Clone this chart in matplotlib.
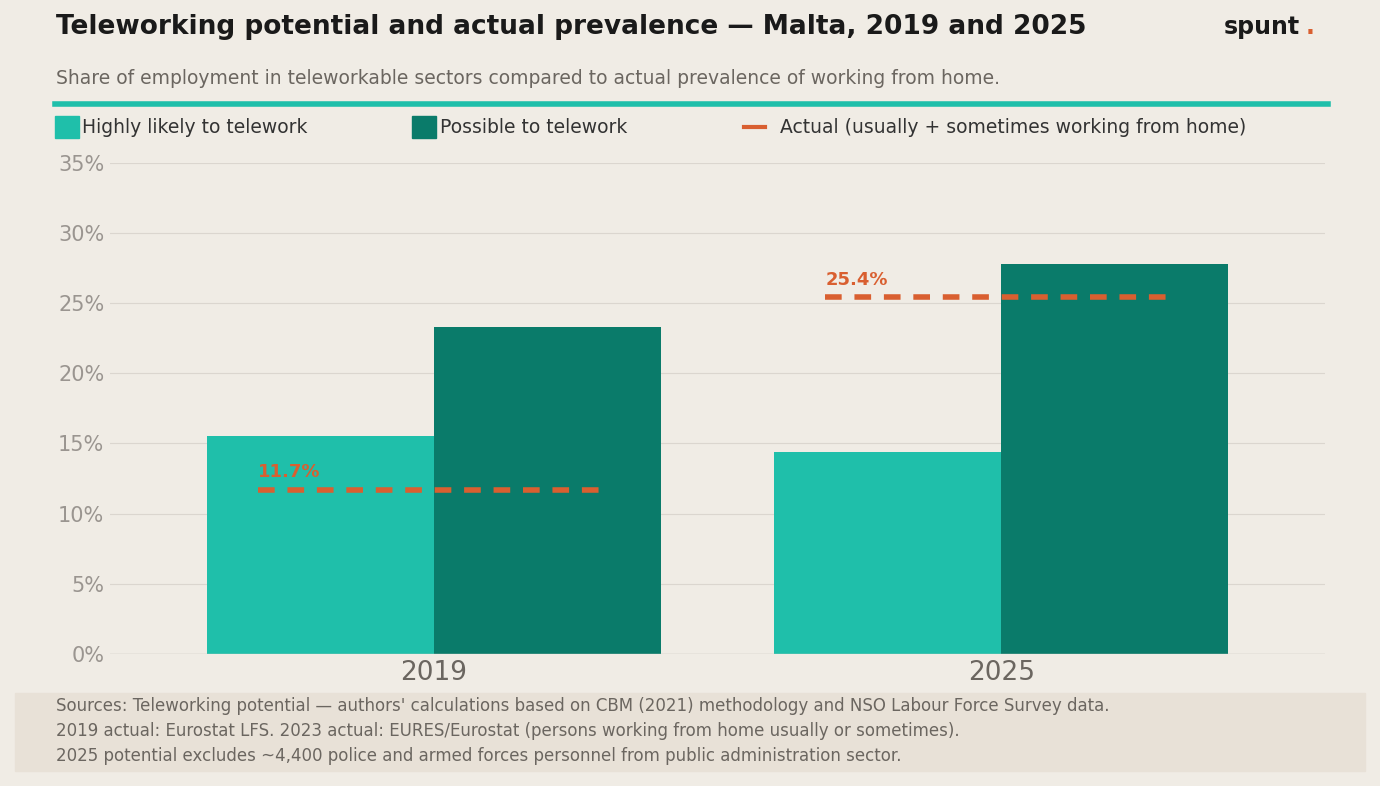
import matplotlib.pyplot as plt
from matplotlib.patches import Rectangle

years = ['2019', '2025']
highly_likely = [15.5, 14.4]
possible = [23.3, 27.8]
actual = [11.7, 25.4]
yticks = [0, 5, 10, 15, 20, 25, 30, 35]

bg = '#f0ece5'
light = '#1fbfaa'
dark = '#0a7b6a'
orange = '#d95f30'

fig = plt.figure(figsize=(13.8, 7.86), dpi=100, facecolor=bg)
ax = fig.add_axes([0.0797, 0.168, 0.8806, 0.625])
ax.set_facecolor(bg)

w = 0.4
x = range(len(years))
ax.bar([i - w / 2 for i in x], highly_likely, width=w, color=light, zorder=2)
ax.bar([i + w / 2 for i in x], possible, width=w, color=dark, zorder=2)
for i, v in zip(x, actual):
    ax.plot([i - 0.31, i + 0.31], [v, v], color=orange, lw=4, ls=(0, (3, 2.3)), zorder=3)
    ax.text(i - 0.31, v + 0.6, f'{v}%', color=orange, fontsize=13, fontweight='bold', va='bottom')

ax.set_xlim(-0.571, 1.571)
ax.set_ylim(0, 35)
ax.set_yticks(yticks)
ax.set_yticklabels([f'{t}%' for t in yticks], color='#9a9590', fontsize=15)
ax.set_xticks(list(x))
ax.set_xticklabels(years, fontsize=19, color='#6b6660')
ax.tick_params(length=0, pad=4)
ax.grid(axis='y', color='#dbd6cf', lw=0.8, zorder=0)
for s in ax.spines.values():
    s.set_visible(False)
ax.axhline(0, color='#cfcac3', lw=1)

fig.text(0.0406, 0.966, 'Teleworking potential and actual prevalence — Malta, 2019 and 2025',
         fontsize=19, fontweight='bold', color='#1a1a1a', va='center')
fig.text(0.887, 0.966, 'spunt', fontsize=17, fontweight='bold', color='#1a1a1a', va='center')
fig.text(0.946, 0.966, '.', fontsize=17, fontweight='bold', color=orange, va='center')
fig.text(0.0406, 0.9, 'Share of employment in teleworkable sectors compared to actual prevalence of working from home.',
         fontsize=13.5, color='#6b6660', va='center')
fig.add_artist(plt.Line2D([0.0395, 0.962], [0.868, 0.868], color=light, lw=4))

# legend
ly = 0.838
fig.add_artist(Rectangle((0.0399, ly - 0.014), 0.0174, 0.028, color=light))
fig.text(0.0594, ly, 'Highly likely to telework', fontsize=13.5, color='#333', va='center')
fig.add_artist(Rectangle((0.2986, ly - 0.014), 0.0174, 0.028, color=dark))
fig.text(0.3188, ly, 'Possible to telework', fontsize=13.5, color='#333', va='center')
fig.add_artist(plt.Line2D([0.539, 0.554], [ly, ly], color=orange, lw=3))
fig.text(0.565, ly, 'Actual (usually + sometimes working from home)', fontsize=13.5, color='#333', va='center')

# footer
fig.add_artist(Rectangle((0.0109, 0.019), 0.978, 0.099, color='#e8e1d7'))
notes = ["Sources: Teleworking potential — authors' calculations based on CBM (2021) methodology and NSO Labour Force Survey data.",
         "2019 actual: Eurostat LFS. 2023 actual: EURES/Eurostat (persons working from home usually or sometimes).",
         "2025 potential excludes ~4,400 police and armed forces personnel from public administration sector."]
for k, n in enumerate(notes):
    fig.text(0.0406, 0.102 - k * 0.032, n, fontsize=12, color='#6b6660', va='center')

fig.savefig('out.png', dpi=100, facecolor=bg)
